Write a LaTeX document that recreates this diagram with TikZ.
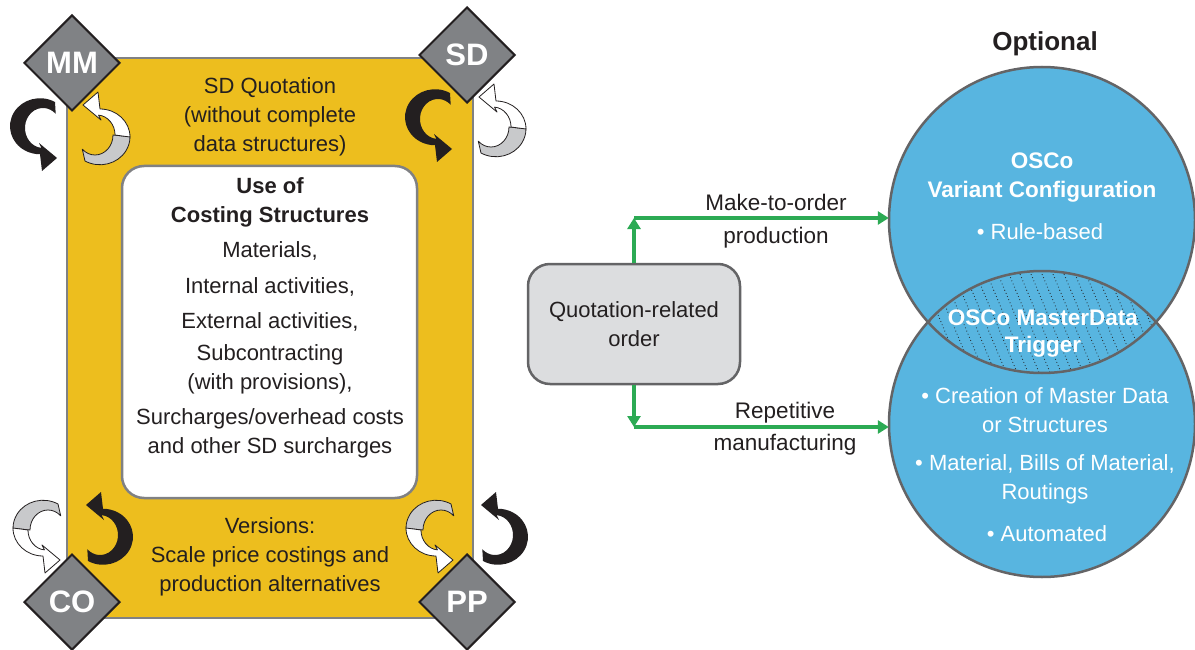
\documentclass[tikz,border=0pt]{standalone}
\usepackage{fontspec}
\setmainfont{Liberation Sans}
\usetikzlibrary{shapes.geometric,arrows.meta}
\definecolor{ybg}{RGB}{237,190,30}
\definecolor{bord}{RGB}{128,129,131}
\definecolor{dgray}{RGB}{128,130,133}
\definecolor{txt}{RGB}{35,31,32}
\definecolor{cblue}{RGB}{88,181,224}
\definecolor{cbord}{RGB}{100,100,102}
\definecolor{qfill}{RGB}{220,221,223}
\definecolor{gr}{RGB}{44,170,84}
\definecolor{ribgray}{RGB}{200,201,203}
\begin{document}
\begin{tikzpicture}[x=1pt,y=-1pt,
  every node/.style={text=txt, inner sep=0pt, align=center},
  reg/.style={font=\fontsize{22}{29}\selectfont},
  bld/.style={font=\fontsize{22}{29}\selectfont\bfseries},
  wreg/.style={font=\fontsize{22}{29}\selectfont, text=white},
  wbld/.style={font=\fontsize{22.5}{29}\selectfont\bfseries, text=white},
  diam/.style={diamond, draw=txt, line width=2pt, fill=dgray, minimum width=96pt, minimum height=96pt, inner sep=0pt, text=white, font=\fontsize{31}{31}\selectfont\bfseries},
  garrow/.style={draw=gr, line width=3.5pt, -{Triangle[length=11pt,width=13pt]}},
  ribline/.style={draw=txt, line width=0.8pt, line join=round},
  ribbon black/.pic={
    \fill[txt] (-2,-56) arc[start angle=-60,end angle=-270,x radius=30,y radius=28]
      -- (-15,13) -- (0,0) -- (-18,-15) -- (-15.6,-10.1)
      arc[start angle=95,end angle=315,x radius=18,y radius=20] -- cycle;
  },
  ribbon white/.pic={
    \filldraw[ribline, fill=ribgray] (-2,-56) arc[start angle=-60,end angle=-180,x radius=30,y radius=28]
      -- (-30,-30) arc[start angle=180,end angle=315,x radius=18,y radius=20] -- cycle;
    \filldraw[ribline, fill=white] (-47,-32) arc[start angle=-180,end angle=-270,x radius=30,y radius=28]
      -- (-15,13) -- (0,0) -- (-18,-15) -- (-15.6,-10.1)
      arc[start angle=95,end angle=180,x radius=18,y radius=20] -- cycle;
  }
]
\useasboundingbox (0,0) rectangle (1195,650);
\fill[white] (0,0) rectangle (1195,650);

% yellow frame
\node[draw=bord, line width=2pt, fill=ybg, minimum width=406pt, minimum height=560pt] (ybox) at (270,338) {};
\node[draw=bord, line width=2.5pt, fill=white, rounded corners=22pt, minimum width=295pt, minimum height=332pt] (wbox) at (269.5,332) {};

\node[reg] (sdq) at (270,117) {SD Quotation\\(without complete\\data structures)};
\node[bld] (use) at (270,202.5) {Use of\\Costing Structures};
\node[reg] (mat) at (270,251) {Materials,};
\node[reg] (int) at (270,287) {Internal activities,};
\node[reg] (ext) at (270,322) {External activities,};
\node[reg] (sub) at (270,369.5) {Subcontracting\\(with provisions),};
\node[reg] (sur) at (270,433.5) {Surcharges/overhead costs\\and other SD surcharges};
\node[reg] (ver) at (270,557) {Versions:\\Scale price costings and\\production alternatives};

% rotation ribbons
\pic at (57,158) {ribbon black};
\pic[rotate=180] at (83,105) {ribbon white};
\pic at (452,149) {ribbon black};
\pic[rotate=180] at (479,97) {ribbon white};
\pic at (60,560) {ribbon white};
\pic[rotate=180] at (86,505) {ribbon black};
\pic at (453,560) {ribbon white};
\pic[rotate=180] at (481,505) {ribbon black};

% diamonds
\node[diam] (mm) at (72,63) {MM};
\node[diam] (sd) at (467,55) {SD};
\node[diam] (co) at (72,602) {CO};
\node[diam] (pp) at (467,602) {PP};

% circles
\node[circle, fill=cblue, minimum size=306pt] (vc) at (1042,220) {};
\node[circle, fill=cblue, minimum size=306pt] (md) at (1042,424) {};
\begin{scope}
  \clip (vc.center) circle[radius=153];
  \clip (md.center) circle[radius=153];
  \foreach \i in {850,861,...,1170}
    \draw[txt, line width=1.1pt, dash pattern=on 0pt off 3.4pt, line cap=round] (\i,262) -- ++(50,120);
\end{scope}
\draw[cbord, line width=2.5pt] (vc.center) circle[radius=153];
\draw[cbord, line width=2.5pt] (md.center) circle[radius=153];

\node[font=\fontsize{26}{26}\selectfont\bfseries] (opt) at (1045,44) {Optional};
\node[wbld] (vct) at (1042,178) {OSCo\\Variant Configuration};
\node[wreg] (rb) at (1040,232) {• Rule-based};
\node[wbld, font=\fontsize{22.5}{27}\selectfont\bfseries] (mdt) at (1043,334) {OSCo MasterData\\Trigger};
\node[wreg] (cr) at (1045,410) {• Creation of Master Data\\or Structures};
\node[wreg] (bom) at (1045,479.5) {• Material, Bills of Material,\\Routings};
\node[wreg] (aut) at (1047,534) {• Automated};

% quotation order and connectors
\node[draw=cbord, line width=2.5pt, fill=qfill, rounded corners=22pt, minimum width=212pt, minimum height=120pt, reg] (quot) at (634,324) {Quotation-related\\order};
\coordinate (up) at (634,218);
\coordinate (dn) at (634,427);
\draw[garrow] (quot.north) -- (up);
\draw[garrow] (up) -- (up -| vc.west);
\draw[garrow] (quot.south) -- (dn);
\draw[garrow] (dn) -- (dn -| md.west);
\node[reg, font=\fontsize{22.5}{33}\selectfont] (mto) at (776,221) {Make-to-order\\production};
\node[reg, font=\fontsize{22.5}{32}\selectfont] (rep) at (785,429) {Repetitive\\manufacturing};
\end{tikzpicture}
\end{document}
